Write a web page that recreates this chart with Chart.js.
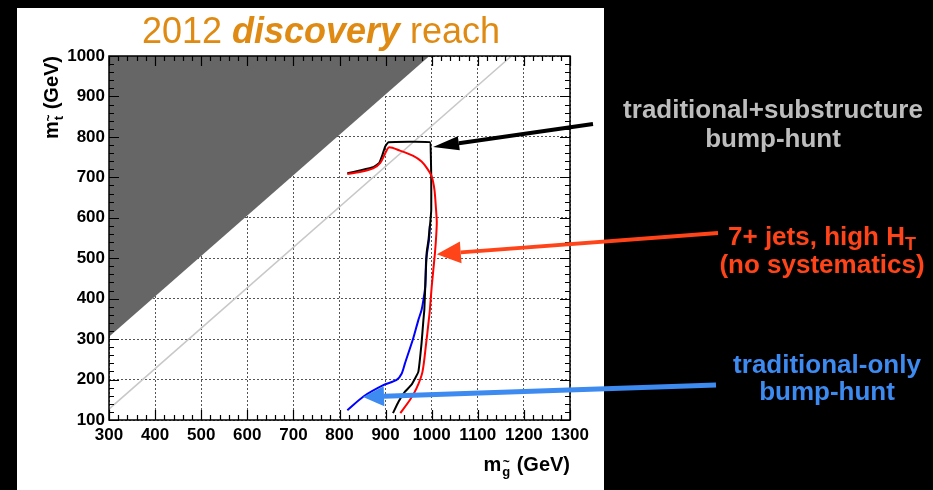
<!DOCTYPE html>
<html>
<head>
<meta charset="utf-8">
<title>2012 discovery reach</title>
<script src="https://cdn.jsdelivr.net/npm/chart.js@4.4.1/dist/chart.umd.min.js"></script>
<style>
  html, body { margin: 0; padding: 0; background: #000; }
  #wrap { width: 933px; height: 490px; }
</style>
</head>
<body>
<div id="wrap"><canvas id="reach" width="933" height="490"></canvas></div>
<script>
// gluino mass on x, stop mass on y (GeV)
const xTicks = [300, 400, 500, 600, 700, 800, 900, 1000, 1100, 1200, 1300];
const yTicks = [100, 200, 300, 400, 500, 600, 700, 800, 900, 1000];

// excluded corner (stop heavier than gluino)
const cornerX = [300, 995];
const cornerY = [306, 1000];

// m_stop = m_gluino - m_top
const diagX = [300, 1173];
const diagY = [127, 1000];

// traditional + substructure bump-hunt
const substructX = [817, 844, 873, 886, 893, 899, 906, 996, 998, 999, 999, 997, 993, 989, 986, 984, 982, 978, 971, 956, 942, 928, 916];
const substructY = [710, 717, 725, 735, 755, 776, 787, 787, 760, 700, 620, 590, 545, 513, 430, 372, 347, 290, 219, 187, 170, 145, 117];

// 7+ jets, high HT (no systematics)
const jetsX = [817, 844, 873, 888, 899, 907, 931, 960, 978, 990, 1000, 1006, 1009, 1011, 1010, 1007, 1000, 996, 993, 988, 980, 967, 953, 932];
const jetsY = [708, 713, 722, 735, 759, 774, 766, 753, 739, 722, 702, 669, 627, 590, 560, 512, 430, 372, 340, 290, 219, 178, 150, 117];

// traditional-only bump-hunt
const tradX = [996, 994, 988, 986, 982, 978, 971, 960, 942, 935, 924, 895, 852, 817];
const tradY = [580, 545, 496, 430, 397, 372, 347, 302, 240, 215, 199, 186, 158, 124];

const FONT = "'Liberation Sans', Arial, Helvetica, sans-serif";

const pts = (xs, ys) => xs.map((v, i) => ({ x: v, y: ys[i] }));

// callouts: arrow tip in data units, tail and text in canvas pixels
const callouts = [
  { tip: [1003, 775], tail: [593, 124], color: '#000000', width: 4, headLen: 26, headHalf: 7,
    lines: ['traditional+substructure', 'bump-hunt'], textColor: '#bdbdbd', cx: 773, base: [118, 147] },
  { tip: [1011, 510], tail: [718, 233], color: '#ff4419', width: 4, headLen: 24, headHalf: 11,
    lines: ['7+ jets, high H|T', '(no systematics)'], textColor: '#ff4419', cx: 822, base: [245, 273] },
  { tip: [851, 157], tail: [716, 385], color: '#3d8af0', width: 5, headLen: 21, headHalf: 10,
    lines: ['traditional-only', 'bump-hunt'], textColor: '#3d8af0', cx: 827, base: [373, 400] }
];

const backdrop = {
  id: 'backdrop',
  beforeDraw(chart) {
    const ctx = chart.ctx;
    ctx.save();
    ctx.fillStyle = '#000';
    ctx.fillRect(0, 0, chart.width, chart.height);
    ctx.fillStyle = '#fff';
    ctx.fillRect(17, 8, 587, 482);
    ctx.restore();
  }
};

// ROOT style frame with inward ticks on all four sides
const frameTicks = {
  id: 'frameTicks',
  afterDatasetsDraw(chart) {
    const { ctx, chartArea: a, scales: { x, y } } = chart;
    ctx.save();
    ctx.strokeStyle = '#000';
    ctx.lineWidth = 1.5;
    ctx.strokeRect(a.left, a.top, a.right - a.left, a.bottom - a.top);
    ctx.lineWidth = 1.2;
    ctx.beginPath();
    for (let v = x.min; v <= x.max; v += 20) {
      const px = Math.round(x.getPixelForValue(v)) + 0.5;
      const len = v % 100 === 0 ? 10 : 5;
      ctx.moveTo(px, a.bottom); ctx.lineTo(px, a.bottom - len);
      ctx.moveTo(px, a.top); ctx.lineTo(px, a.top + len);
    }
    for (let v = y.min; v <= y.max; v += 20) {
      const py = Math.round(y.getPixelForValue(v)) + 0.5;
      const len = v % 100 === 0 ? 10 : 5;
      ctx.moveTo(a.left, py); ctx.lineTo(a.left + len, py);
      ctx.moveTo(a.right, py); ctx.lineTo(a.right - len, py);
    }
    ctx.stroke();
    ctx.restore();
  }
};

// draws "m" with a tilded subscript and "(GeV)"; x0 is the start of the text
function massLabel(ctx, x0, base, sub) {
  ctx.font = 'bold 20px ' + FONT;
  ctx.fillText('m', x0, base);
  let x = x0 + ctx.measureText('m').width + 1;
  ctx.font = 'bold 13px ' + FONT;
  const sw = ctx.measureText(sub).width;
  ctx.fillText(sub, x, base + 5);
  ctx.font = 'bold 12px ' + FONT;
  const tw = ctx.measureText('~').width;
  ctx.fillText('~', x + (sw - tw) / 2, base - 5);
  x += sw + 1;
  ctx.font = 'bold 20px ' + FONT;
  ctx.fillText(' (GeV)', x, base);
}

function massLabelWidth(ctx, sub) {
  ctx.font = 'bold 20px ' + FONT;
  const w = ctx.measureText('m').width + ctx.measureText(' (GeV)').width + 2;
  ctx.font = 'bold 13px ' + FONT;
  return w + ctx.measureText(sub).width;
}

const overlay = {
  id: 'overlay',
  afterDraw(chart) {
    const { ctx, chartArea: a, scales: { x, y } } = chart;
    ctx.save();
    ctx.textBaseline = 'alphabetic';
    ctx.textAlign = 'left';

    // title
    const parts = [
      ['2012 ', '36px ' + FONT],
      ['discovery', 'italic bold 36px ' + FONT],
      [' reach', '36px ' + FONT]
    ];
    let total = 0;
    parts.forEach(p => { ctx.font = p[1]; total += ctx.measureText(p[0]).width; });
    let tx = 321 - total / 2;
    ctx.fillStyle = '#df8a12';
    parts.forEach(p => { ctx.font = p[1]; ctx.fillText(p[0], tx, 43); tx += ctx.measureText(p[0]).width; });

    // axis titles
    ctx.fillStyle = '#000';
    massLabel(ctx, a.right - massLabelWidth(ctx, 'g'), 471, 'g');
    ctx.save();
    ctx.translate(58, a.top);
    ctx.rotate(-Math.PI / 2);
    massLabel(ctx, -massLabelWidth(ctx, 't'), 0, 't');
    ctx.restore();

    // callout arrows and their texts
    callouts.forEach(c => {
      const tipX = x.getPixelForValue(c.tip[0]);
      const tipY = y.getPixelForValue(c.tip[1]);
      const ang = Math.atan2(c.tail[1] - tipY, c.tail[0] - tipX);
      const bx = tipX + Math.cos(ang) * c.headLen;
      const by = tipY + Math.sin(ang) * c.headLen;
      ctx.strokeStyle = c.color;
      ctx.fillStyle = c.color;
      ctx.lineWidth = c.width;
      ctx.beginPath();
      ctx.moveTo(bx, by);
      ctx.lineTo(c.tail[0], c.tail[1]);
      ctx.stroke();
      ctx.beginPath();
      ctx.moveTo(tipX, tipY);
      ctx.lineTo(bx - Math.sin(ang) * c.headHalf, by + Math.cos(ang) * c.headHalf);
      ctx.lineTo(bx + Math.sin(ang) * c.headHalf, by - Math.cos(ang) * c.headHalf);
      ctx.closePath();
      ctx.fill();

      ctx.fillStyle = c.textColor;
      c.lines.forEach((line, i) => {
        const [main, sub] = line.split('|');
        ctx.font = 'bold 26px ' + FONT;
        const mw = ctx.measureText(main).width;
        let sw = 0;
        if (sub) { ctx.font = 'bold 18px ' + FONT; sw = ctx.measureText(sub).width; }
        const sx = c.cx - (mw + sw) / 2;
        ctx.font = 'bold 26px ' + FONT;
        ctx.fillText(main, sx, c.base[i]);
        if (sub) { ctx.font = 'bold 18px ' + FONT; ctx.fillText(sub, sx + mw, c.base[i] + 5); }
      });
    });
    ctx.restore();
  }
};

const majorOnly = ctx => (ctx.tick && ctx.tick.value % 100 === 0) ? '#555' : 'rgba(0,0,0,0)';
const plainLabel = v => String(v);

new Chart(document.getElementById('reach'), {
  type: 'scatter',
  data: {
    datasets: [
      { data: pts(jetsX, jetsY), showLine: true, borderColor: '#ff0000', borderWidth: 2, tension: 0.25, pointRadius: 0 },
      { data: pts(substructX, substructY), showLine: true, borderColor: '#000000', borderWidth: 2, tension: 0.1, pointRadius: 0 },
      { data: pts(tradX, tradY), showLine: true, borderColor: '#0000ff', borderWidth: 2, tension: 0.25, pointRadius: 0 },
      { data: pts(diagX, diagY), showLine: true, borderColor: '#c8c8c8', borderWidth: 1.5, pointRadius: 0 },
      { data: pts(cornerX, cornerY), showLine: true, borderWidth: 0, borderColor: '#666666', backgroundColor: '#666666', fill: 'end', pointRadius: 0 }
    ]
  },
  options: {
    responsive: false,
    animation: false,
    events: [],
    layout: { padding: { left: 0, top: 56, right: 363, bottom: 0 } },
    plugins: { legend: { display: false }, tooltip: { enabled: false } },
    scales: {
      x: {
        type: 'linear',
        min: xTicks[0],
        max: xTicks[xTicks.length - 1],
        afterFit: s => { s.height = 70; },
        afterBuildTicks: s => { s.ticks = xTicks.map(v => ({ value: v })); },
        border: { display: false, dash: [2, 2] },
        grid: { color: majorOnly, drawTicks: false, lineWidth: 1 },
        ticks: { color: '#000', padding: 5, maxRotation: 0, autoSkip: false, callback: plainLabel,
                 font: { family: FONT, size: 17, weight: 'bold' } }
      },
      y: {
        type: 'linear',
        min: yTicks[0],
        max: yTicks[yTicks.length - 1],
        afterFit: s => { s.width = 109; },
        afterBuildTicks: s => { s.ticks = yTicks.map(v => ({ value: v })); },
        border: { display: false, dash: [2, 2] },
        grid: { color: majorOnly, drawTicks: false, lineWidth: 1 },
        ticks: { color: '#000', padding: 4, autoSkip: false, callback: plainLabel,
                 font: { family: FONT, size: 17, weight: 'bold' } }
      }
    }
  },
  plugins: [backdrop, frameTicks, overlay]
});
</script>
</body>
</html>
